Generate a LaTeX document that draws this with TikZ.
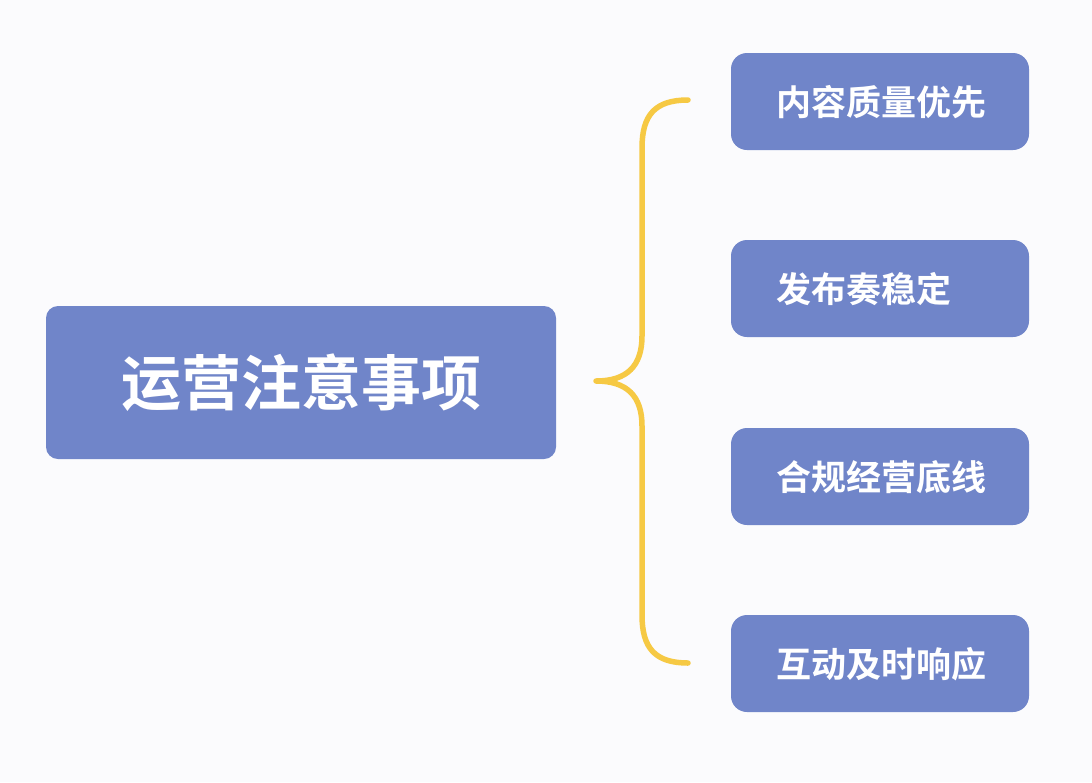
\documentclass[tikz,border=0pt]{standalone}
\usepackage{fontspec}
\newfontfamily\cjk{Noto Sans CJK SC Bold}
\definecolor{boxblue}{RGB}{112,133,201}
\definecolor{braceyellow}{RGB}{246,201,68}
\definecolor{bgcol}{RGB}{251,251,253}
\begin{document}
\begin{tikzpicture}[x=1pt,y=-1pt,
  mainbox/.style={fill=boxblue, rounded corners=12pt, draw=none},
  itembox/.style={fill=boxblue, rounded corners=16pt, draw=none},
  maintext/.style={text=white, font=\cjk\fontsize{60}{66}\selectfont, inner sep=0pt},
  itemtext/.style={text=white, font=\cjk\fontsize{35}{40}\selectfont, inner sep=0pt, anchor=west},
  bracestyle/.style={draw=braceyellow, line width=5.5pt, line cap=round, line join=round}]
\useasboundingbox (0,0) rectangle (1092,782);
\fill[bgcol] (0,0) rectangle (1092,782);
% main box
\path[mainbox] (46,306) rectangle (556,459);
\node[maintext] (main) at (301,383) {运营注意事项};
% item boxes
\path[itembox] (731,53) rectangle (1029,150);
\node[itemtext] (i1) at (776,102) {内容质量优先};
\path[itembox] (731,240) rectangle (1029,337);
\node[itemtext] (i2) at (776,289) {发布奏稳定};
\path[itembox] (731,428) rectangle (1029,525);
\node[itemtext] (i3) at (776,477) {合规经营底线};
\path[itembox] (731,615) rectangle (1029,712);
\node[itemtext] (i4) at (776,664) {互动及时响应};
% brace
\coordinate (tip) at (596,381);
\coordinate (top) at (688,100);
\coordinate (bot) at (688,663);
\draw[bracestyle] (top) .. controls (655,100) and (642,115) .. (642,148) -- (642,336)
  .. controls (642,366) and (627,381) .. (tip)
  .. controls (627,381) and (642,396) .. (642,426) -- (642,615)
  .. controls (642,648) and (655,663) .. (bot);
\end{tikzpicture}
\end{document}
